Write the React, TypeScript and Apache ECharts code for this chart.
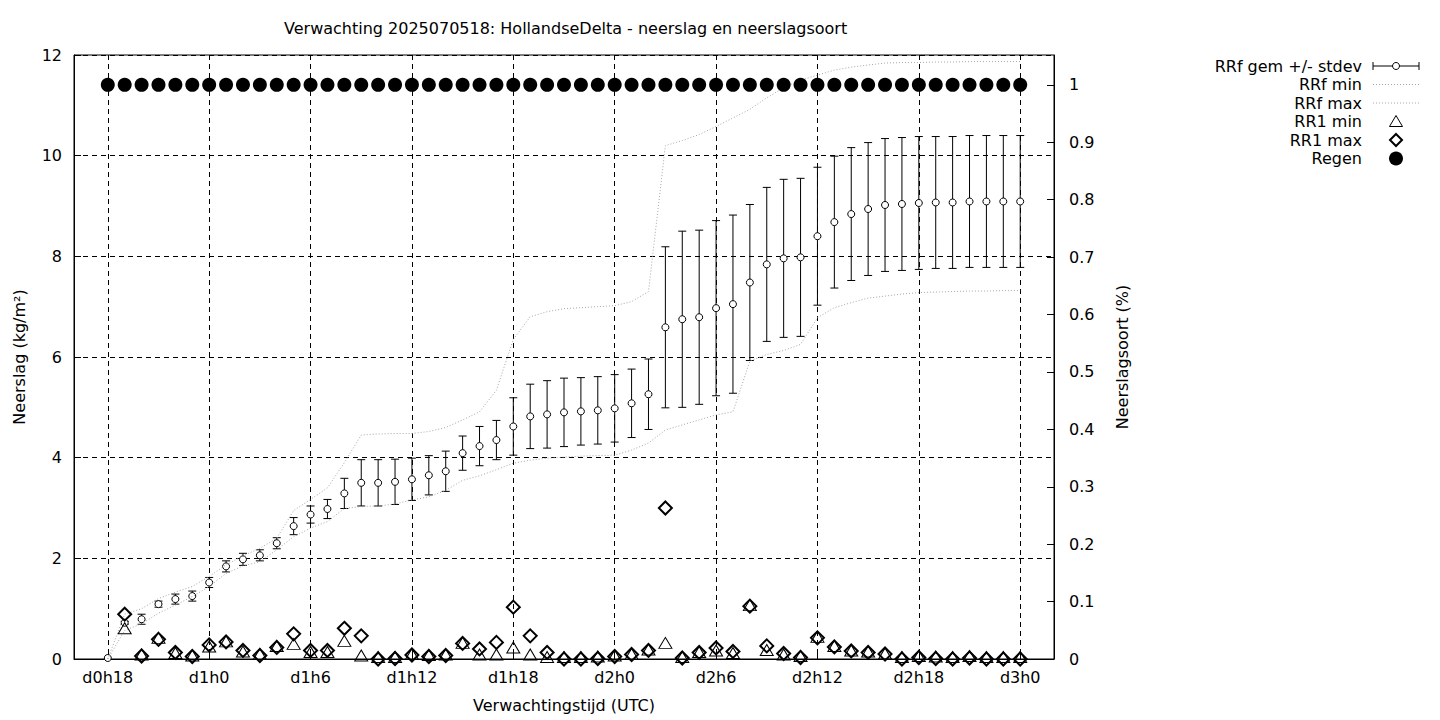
import React, { useEffect, useRef } from 'react';
import * as echarts from 'echarts';

const FONT = 'DejaVu Sans';
const FS = 16;

// forecast hours start at d0h18; axis runs two hours beyond the data on each side
const START_HOUR = 18;
const PAD = 2;
const tickLabels = ['d0h18', 'd1h0', 'd1h6', 'd1h12', 'd1h18', 'd2h0', 'd2h6', 'd2h12', 'd2h18', 'd3h0'];

// RRf mean (cumulative, kg/m2)
const rrfMean = [
  0.02, 0.72, 0.79, 1.09, 1.19, 1.25, 1.52, 1.84, 1.98, 2.06,
  2.30, 2.64, 2.87, 2.98, 3.29, 3.50, 3.50, 3.52, 3.57, 3.65,
  3.73, 4.09, 4.23, 4.35, 4.62, 4.82, 4.86, 4.90, 4.92, 4.94,
  4.98, 5.08, 5.26, 6.59, 6.75, 6.79, 6.97, 7.05, 7.48, 7.84,
  7.96, 7.98, 8.40, 8.68, 8.84, 8.94, 9.02, 9.04, 9.06, 9.07,
  9.07, 9.09, 9.09, 9.09, 9.09,
];
// RRf standard deviation
const rrfStd = [
  0.00, 0.03, 0.10, 0.06, 0.10, 0.10, 0.10, 0.11, 0.12, 0.11,
  0.11, 0.17, 0.17, 0.19, 0.30, 0.46, 0.46, 0.45, 0.42, 0.39,
  0.40, 0.34, 0.39, 0.39, 0.57, 0.64, 0.67, 0.68, 0.67, 0.67,
  0.67, 0.68, 0.70, 1.60, 1.75, 1.73, 1.74, 1.77, 1.55, 1.53,
  1.57, 1.57, 1.37, 1.31, 1.32, 1.32, 1.32, 1.32, 1.32, 1.31,
  1.31, 1.31, 1.31, 1.31, 1.31,
];
// RRf min
const rrfMin = [
  0.00, 0.57, 0.70, 0.91, 1.07, 1.24, 1.44, 1.70, 1.85, 1.93,
  2.17, 2.43, 2.60, 2.73, 2.99, 3.03, 3.04, 3.08, 3.16, 3.22,
  3.35, 3.55, 3.64, 3.76, 3.89, 3.95, 3.99, 4.01, 4.03, 4.04,
  4.05, 4.15, 4.29, 4.55, 4.65, 4.75, 4.85, 4.91, 5.92, 6.05,
  6.13, 6.25, 6.78, 6.98, 7.08, 7.17, 7.21, 7.25, 7.28, 7.29,
  7.30, 7.31, 7.31, 7.32, 7.32,
];
// RRf max
const rrfMax = [
  0.00, 0.89, 1.00, 1.20, 1.33, 1.44, 1.64, 1.87, 2.05, 2.20,
  2.40, 2.95, 3.17, 3.40, 3.90, 4.45, 4.47, 4.48, 4.48, 4.52,
  4.60, 4.75, 4.91, 5.34, 6.35, 6.80, 6.90, 6.96, 6.98, 7.00,
  7.02, 7.10, 7.30, 10.20, 10.30, 10.42, 10.58, 10.75, 10.92, 11.15,
  11.35, 11.50, 11.60, 11.70, 11.76, 11.80, 11.84, 11.85, 11.85, 11.86,
  11.86, 11.87, 11.87, 11.87, 11.87,
];
// RR1 min (hourly)
const rr1Min = [
  null, 0.57, 0.05, 0.38, 0.08, 0.03, 0.21, 0.31, 0.11, 0.06,
  0.22, 0.26, 0.10, 0.10, 0.32, 0.03, 0.00, 0.00, 0.06, 0.04,
  0.05, 0.28, 0.05, 0.05, 0.19, 0.05, 0.00, 0.00, 0.00, 0.01,
  0.03, 0.06, 0.15, 0.28, 0.00, 0.10, 0.13, 0.08, 1.03, 0.14,
  0.05, 0.02, 0.40, 0.22, 0.13, 0.11, 0.07, 0.00, 0.02, 0.01,
  0.00, 0.02, 0.00, 0.00, 0.00,
];
// RR1 max (hourly)
const rr1Max = [
  null, 0.89, 0.06, 0.39, 0.13, 0.05, 0.28, 0.34, 0.17, 0.07,
  0.23, 0.50, 0.17, 0.17, 0.61, 0.46, 0.00, 0.01, 0.08, 0.05,
  0.07, 0.31, 0.20, 0.33, 1.03, 0.46, 0.13, 0.00, 0.00, 0.01,
  0.05, 0.09, 0.17, 3.00, 0.02, 0.13, 0.22, 0.15, 1.05, 0.26,
  0.11, 0.03, 0.42, 0.24, 0.16, 0.13, 0.10, 0.00, 0.03, 0.01,
  0.00, 0.02, 0.00, 0.00, 0.00,
];
// Regen (precipitation type fraction)
const regen = [
  1, 1, 1, 1, 1, 1, 1, 1, 1, 1,
  1, 1, 1, 1, 1, 1, 1, 1, 1, 1,
  1, 1, 1, 1, 1, 1, 1, 1, 1, 1,
  1, 1, 1, 1, 1, 1, 1, 1, 1, 1,
  1, 1, 1, 1, 1, 1, 1, 1, 1, 1,
  1, 1, 1, 1, 1,
];

const legendNames = ['RRf gem +/- stdev', 'RRf min', 'RRf max', 'RR1 min', 'RR1 max', 'Regen'];

const N = rrfMean.length;
const categories: string[] = [];
for (let h = -PAD; h < N + PAD; h++) {
  const t = START_HOUR + h;
  categories.push(`d${Math.floor(t / 24)}h${t % 24}`);
}
const showTick = (_i: number, v: string) => tickLabels.includes(v);

const pairs = (arr: (number | null)[]) =>
  arr.map((v, i) => (v === null ? [i + PAD, '-'] : [i + PAD, v]));

const DOT_GREY = '#a6a6a6';
const txt = { fontFamily: FONT, fontSize: FS, color: '#000' };

function legendGraphics() {
  const els: any[] = [];
  const textX = 1362;
  const x1 = 1373;
  const x2 = 1419;
  const xc = 1396;
  const y0 = 66;
  const dy = 18.5;
  legendNames.forEach((name, k) => {
    const y = y0 + k * dy;
    els.push({
      type: 'text',
      x: textX,
      y,
      style: { text: name, align: 'right', verticalAlign: 'middle', fontFamily: FONT, fontSize: FS, fill: '#000' },
    });
    const blk = { stroke: '#000', lineWidth: 1 };
    if (k === 0) {
      els.push({ type: 'line', shape: { x1, y1: y, x2, y2: y }, style: blk });
      els.push({ type: 'line', shape: { x1, y1: y - 4, x2: x1, y2: y + 4 }, style: blk });
      els.push({ type: 'line', shape: { x1: x2, y1: y - 4, x2, y2: y + 4 }, style: blk });
      els.push({ type: 'circle', shape: { cx: xc, cy: y, r: 3.5 }, style: { fill: '#fff', stroke: '#000', lineWidth: 1 } });
    } else if (k === 1 || k === 2) {
      els.push({ type: 'line', shape: { x1, y1: y, x2, y2: y }, style: { stroke: DOT_GREY, lineWidth: 1, lineDash: [1, 2] } });
    } else if (k === 3) {
      els.push({
        type: 'polygon',
        shape: { points: [[xc, y - 6], [xc + 6.5, y + 5], [xc - 6.5, y + 5]] },
        style: { fill: 'none', stroke: '#000', lineWidth: 1 },
      });
    } else if (k === 4) {
      els.push({
        type: 'polygon',
        shape: { points: [[xc, y - 6], [xc + 6, y], [xc, y + 6], [xc - 6, y]] },
        style: { fill: 'none', stroke: '#000', lineWidth: 2 },
      });
    } else {
      els.push({ type: 'circle', shape: { cx: xc, cy: y, r: 7 }, style: { fill: '#000' } });
    }
  });
  return els;
}

export default function App() {
  const ref = useRef<HTMLDivElement>(null);
  useEffect(() => {
    if (!ref.current) return;
    const chart = echarts.init(ref.current, null, { renderer: 'svg' });
    const option: any = {
      animation: false,
      backgroundColor: '#fff',
      title: {
        text: 'Verwachting 2025070518: HollandseDelta - neerslag en neerslagsoort',
        left: 284,
        top: 20,
        padding: 0,
        textStyle: { fontFamily: FONT, fontSize: FS, fontWeight: 'normal', color: '#000' },
      },
      grid: {
        left: 74,
        top: 55,
        width: 980,
        height: 604,
        show: true,
        borderColor: '#000',
        borderWidth: 1,
        backgroundColor: 'transparent',
      },
      xAxis: {
        type: 'category',
        data: categories,
        boundaryGap: false,
        axisLine: { show: true, lineStyle: { color: '#000', width: 1 } },
        axisTick: { show: true, inside: true, length: 7, interval: showTick, lineStyle: { color: '#000' } },
        axisLabel: { interval: showTick, margin: 10, ...txt },
        splitLine: { show: true, interval: showTick, lineStyle: { color: '#000', width: 1, type: [5, 4] } },
        name: 'Verwachtingstijd (UTC)',
        nameLocation: 'middle',
        nameGap: 38,
        nameTextStyle: txt,
      },
      yAxis: [
        {
          type: 'value',
          min: 0,
          max: 12,
          interval: 2,
          axisLine: { show: true, lineStyle: { color: '#000', width: 1 } },
          axisTick: { show: true, inside: true, length: 7, lineStyle: { color: '#000' } },
          axisLabel: { margin: 12, ...txt },
          splitLine: { show: true, lineStyle: { color: '#000', width: 1, type: [5, 4] } },
          name: 'Neerslag (kg/m²)',
          nameLocation: 'middle',
          nameRotate: 90,
          nameGap: 47,
          nameTextStyle: txt,
        },
        {
          type: 'value',
          position: 'right',
          min: 0,
          max: 1.052,
          interval: 0.1,
          axisLine: { show: true, lineStyle: { color: '#000', width: 1 } },
          axisTick: { show: true, inside: true, length: 7, lineStyle: { color: '#000' } },
          axisLabel: { margin: 15, showMaxLabel: false, ...txt },
          splitLine: { show: false },
          name: 'Neerslagsoort (%)',
          nameLocation: 'middle',
          nameRotate: 90,
          nameGap: 60,
          nameTextStyle: txt,
        },
      ],
      series: [
        {
          name: 'RRf gem +/- stdev',
          type: 'custom',
          xAxisIndex: 0,
          yAxisIndex: 0,
          silent: true,
          z: 2,
          encode: { x: 0, y: 1 },
          data: rrfMean.map((m, i) => [i + PAD, m, rrfStd[i]]),
          renderItem: (_params: any, api: any) => {
            const x = api.value(0);
            const m = api.value(1);
            const s = api.value(2);
            const c = api.coord([x, m]);
            const t = api.coord([x, m + s]);
            const b = api.coord([x, m - s]);
            const st = { stroke: '#000', lineWidth: 1 };
            const children: any[] = [];
            if (s > 0) {
              children.push({ type: 'line', shape: { x1: c[0], y1: t[1], x2: c[0], y2: b[1] }, style: st });
              children.push({ type: 'line', shape: { x1: c[0] - 4, y1: t[1], x2: c[0] + 4, y2: t[1] }, style: st });
              children.push({ type: 'line', shape: { x1: c[0] - 4, y1: b[1], x2: c[0] + 4, y2: b[1] }, style: st });
            }
            children.push({ type: 'circle', shape: { cx: c[0], cy: c[1], r: 3.5 }, style: { fill: '#fff', stroke: '#000', lineWidth: 1 } });
            return { type: 'group', children };
          },
        },
        {
          name: 'RRf min',
          type: 'line',
          data: pairs(rrfMin),
          symbol: 'none',
          silent: true,
          z: 3,
          lineStyle: { color: DOT_GREY, width: 1, type: [1, 2] },
        },
        {
          name: 'RRf max',
          type: 'line',
          data: pairs(rrfMax),
          symbol: 'none',
          silent: true,
          z: 3,
          lineStyle: { color: DOT_GREY, width: 1, type: [1, 2] },
        },
        {
          name: 'RR1 min',
          type: 'scatter',
          data: pairs(rr1Min),
          symbol: 'triangle',
          symbolSize: [13, 11],
          symbolOffset: [0, -2],
          silent: true,
          z: 4,
          itemStyle: { color: 'transparent', borderColor: '#000', borderWidth: 1, opacity: 1 },
        },
        {
          name: 'RR1 max',
          type: 'scatter',
          data: pairs(rr1Max),
          symbol: 'diamond',
          symbolSize: 13,
          silent: true,
          z: 5,
          itemStyle: { color: 'transparent', borderColor: '#000', borderWidth: 2, opacity: 1 },
        },
        {
          name: 'Regen',
          type: 'scatter',
          yAxisIndex: 1,
          data: pairs(regen),
          symbol: 'circle',
          symbolSize: 14,
          silent: true,
          z: 6,
          itemStyle: { color: '#000', opacity: 1 },
        },
      ],
      graphic: legendGraphics(),
    };
    chart.setOption(option);
    return () => chart.dispose();
  }, []);
  return (
    <div
      ref={ref}
      style={{ position: 'absolute', left: 0, top: 0, width: 1440, height: 720, background: '#fff' }}
    />
  );
}
